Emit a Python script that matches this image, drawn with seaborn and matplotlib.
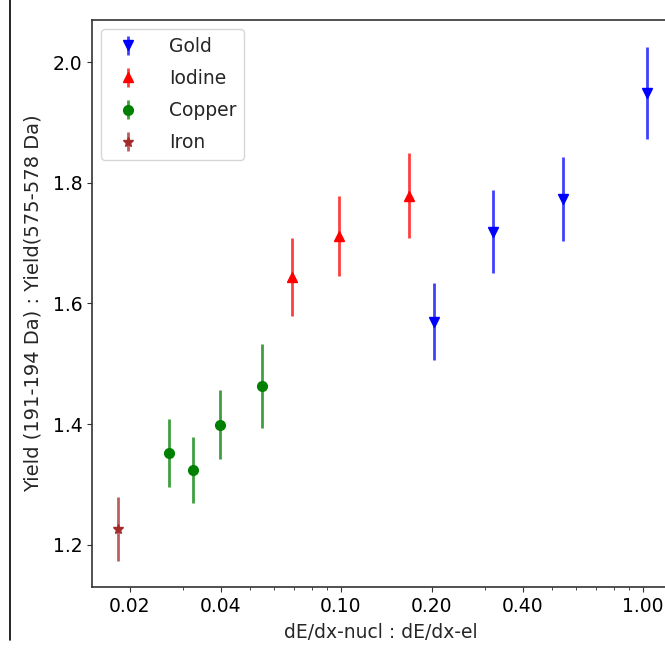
import numpy as np
import matplotlib
matplotlib.use("Agg")
import matplotlib.pyplot as plt
import seaborn as sns
from matplotlib.lines import Line2D
from matplotlib.ticker import FixedLocator, FixedFormatter, NullFormatter

# values
gold_x = [0.2027, 0.3193, 0.5446, 1.029]
gold_y = [1.570, 1.719, 1.773, 1.949]
gold_err = [0.064, 0.069, 0.070, 0.076]

iodine_x = [0.0690, 0.0983, 0.1676]
iodine_y = [1.644, 1.712, 1.779]
iodine_err = [0.065, 0.067, 0.070]

copper_x = [0.0269, 0.0323, 0.0398, 0.0546]
copper_y = [1.352, 1.324, 1.399, 1.463]
copper_err = [0.057, 0.055, 0.057, 0.070]

iron_x = [0.0183]
iron_y = [1.226]
iron_err = [0.053]

x_ticks = [0.02, 0.04, 0.10, 0.20, 0.40, 1.00]
x_tick_labels = ["0.02", "0.04", "0.10", "0.20", "0.40", "1.00"]

sns.set_style("ticks")
plt.rcParams["font.family"] = ["DejaVu Sans"]
plt.rcParams.update({"font.size": 13.5})

fig = plt.figure(figsize=(6.65, 6.5), dpi=100)
ax = fig.add_axes([92 / 665, 63 / 650, 578 / 665, 567 / 650])

series = [
    ("Gold", gold_x, gold_y, gold_err, "blue", "v"),
    ("Iodine", iodine_x, iodine_y, iodine_err, "red", "^"),
    ("Copper", copper_x, copper_y, copper_err, "green", "o"),
    ("Iron", iron_x, iron_y, iron_err, "brown", "*"),
]

for name, xs, ys, es, col, mk in series:
    ecol = matplotlib.colors.to_rgba(col, 0.75)
    ax.errorbar(xs, ys, yerr=es, fmt=mk, color=col, ecolor=ecol,
                elinewidth=2, markersize=7, capsize=0, label=name)

ax.set_xscale("log")
ax.set_xlim(0.0150, 1.228)
ax.set_ylim(1.130, 2.070)
ax.xaxis.set_major_locator(FixedLocator(x_ticks))
ax.xaxis.set_major_formatter(FixedFormatter(x_tick_labels))
ax.xaxis.set_minor_formatter(NullFormatter())
ax.set_yticks([1.2, 1.4, 1.6, 1.8, 2.0])
ax.set_yticklabels(["1.2", "1.4", "1.6", "1.8", "2.0"])
ax.tick_params(axis="both", labelsize=13.5, colors="#333333", labelcolor="black")

for sp in ax.spines.values():
    sp.set_color("#333333")
    sp.set_linewidth(1.2)

ax.set_xlabel("dE/dx-nucl : dE/dx-el", fontsize=13.5, labelpad=5)
ax.set_ylabel("Yield (191-194 Da) : Yield(575-578 Da)", fontsize=14, labelpad=7)

ax.legend(loc="upper left", fontsize=13.5, frameon=True, edgecolor="#cccccc",
          borderaxespad=0.5, handletextpad=1.2, labelspacing=0.7)

fig.add_artist(Line2D([10 / 665, 10 / 665], [1.0, 10 / 650], color="black",
                      lw=1.2, transform=fig.transFigure))

fig.savefig("out.png", dpi=100)
